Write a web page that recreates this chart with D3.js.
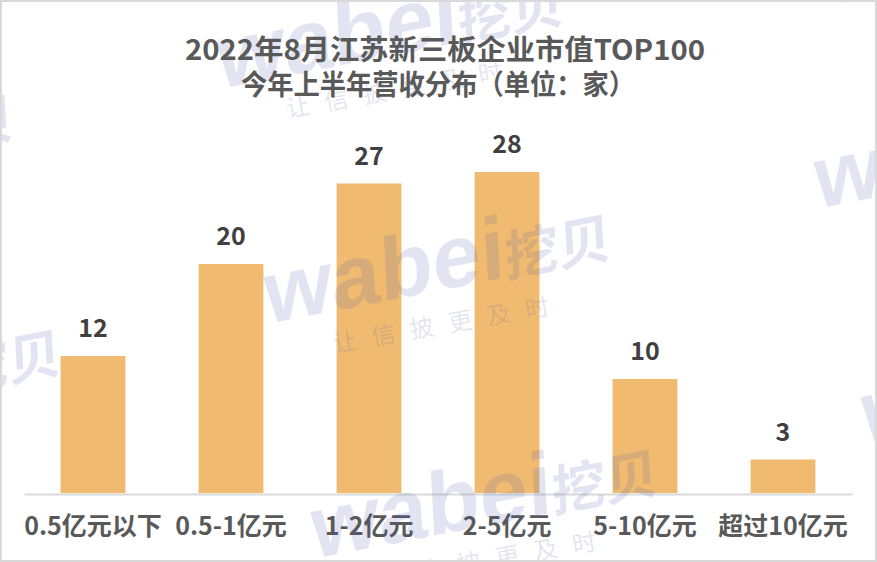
<!DOCTYPE html>
<html>
<head>
<meta charset="utf-8">
<script src="https://cdn.jsdelivr.net/npm/d3@7"></script>
<style>
  html, body { margin: 0; padding: 0; background: #fff; }
  svg { display: block; }
</style>
</head>
<body>
<svg id="chart" width="877" height="562"></svg>
<script>
const titleLines = ["2022年8月江苏新三板企业市值TOP100", "今年上半年营收分布（单位：家）"];
const categories = ["0.5亿元以下", "0.5-1亿元", "1-2亿元", "2-5亿元", "5-10亿元", "超过10亿元"];
const values = [12, 20, 27, 28, 10, 3];
const yDomain = [0, 30];
const watermarkMain = "wabei";
const watermarkCn = "挖贝";
const watermarkSub = "让信披更及时";

const W = 877, H = 562;
const svg = d3.select("#chart");
const cjk = "'Noto Sans CJK SC', 'Noto Sans', sans-serif";

svg.append("rect").attr("x", 0).attr("y", 0).attr("width", W).attr("height", H).attr("fill", "#fff");

const x = d3.scaleBand().domain(categories).range([24, 852]).paddingInner(0.53).paddingOuter(0.265);
const y = d3.scaleLinear().domain(yDomain).range([494, 149]);

// bars
svg.append("g").selectAll("rect").data(values).join("rect")
  .attr("x", (d, i) => x(categories[i]))
  .attr("y", d => y(d))
  .attr("width", x.bandwidth())
  .attr("height", d => y(0) - y(d) - 1)
  .attr("fill", "#F0BB70");

// axis
const axis = svg.append("g").attr("transform", `translate(0,${y(0)})`)
  .call(d3.axisBottom(x).tickSize(0).tickPadding(0));
axis.select(".domain").attr("stroke", "#d9d9d9").attr("stroke-width", 2);
axis.selectAll(".tick text")
  .attr("y", 40.5).attr("dy", 0)
  .attr("fill", "#595959")
  .style("font-family", cjk).style("font-size", "25px").style("font-weight", "bold");

// watermark tiles
const wm = svg.append("g").attr("pointer-events", "none");
const a = [550, -115], b = [47, 235];
const origin = [266, 324];
for (let i = -2; i <= 2; i++) {
  for (let j = -2; j <= 2; j++) {
    const ox = origin[0] + i * a[0] + j * b[0];
    const oy = origin[1] + i * a[1] + j * b[1];
    if (ox < -450 || ox > W + 20 || oy < -60 || oy > H + 150) continue;
    const g = wm.append("g").attr("transform", `translate(${ox},${oy}) rotate(-11)`)
      .attr("fill", "#4a56a6").attr("fill-opacity", 0.16);
    const t = g.append("text").attr("transform", "skewX(-8)").style("font-weight", "bold");
    t.append("tspan").text(watermarkMain)
      .style("font-family", "'Liberation Sans', Arial, sans-serif").style("font-size", "88px");
    t.append("tspan").text(watermarkCn)
      .style("font-family", cjk).style("font-size", "54px");
    g.append("text").attr("transform", "translate(62,41) rotate(1)")
      .text(watermarkSub)
      .style("font-family", cjk).style("font-size", "24px")
      .style("letter-spacing", "15px");
  }
}

// value labels
svg.append("g").selectAll("text").data(values).join("text")
  .attr("x", (d, i) => x(categories[i]) + x.bandwidth() / 2)
  .attr("y", d => y(d) - 19)
  .attr("text-anchor", "middle")
  .attr("fill", "#404040")
  .style("font-family", cjk).style("font-size", "25px").style("font-weight", "bold")
  .text(d => d);

// title
const tl = svg.append("g");
const titleY = [59.5, 95];
const titleLen = [520, 394];
const titleCx = [445, 438];
titleLines.forEach((s, i) => {
  tl.append("text")
    .attr("x", titleCx[i]).attr("y", titleY[i])
    .attr("text-anchor", "middle")
    .attr("textLength", titleLen[i]).attr("lengthAdjust", "spacingAndGlyphs")
    .attr("fill", "#595959")
    .style("font-family", cjk).style("font-size", "28px").style("font-weight", "bold")
    .text(s);
});

// border
svg.append("rect").attr("x", 1).attr("y", 1).attr("width", W - 2).attr("height", H - 2)
  .attr("fill", "none").attr("stroke", "#d9d9d9").attr("stroke-width", 2);
</script>
</body>
</html>
